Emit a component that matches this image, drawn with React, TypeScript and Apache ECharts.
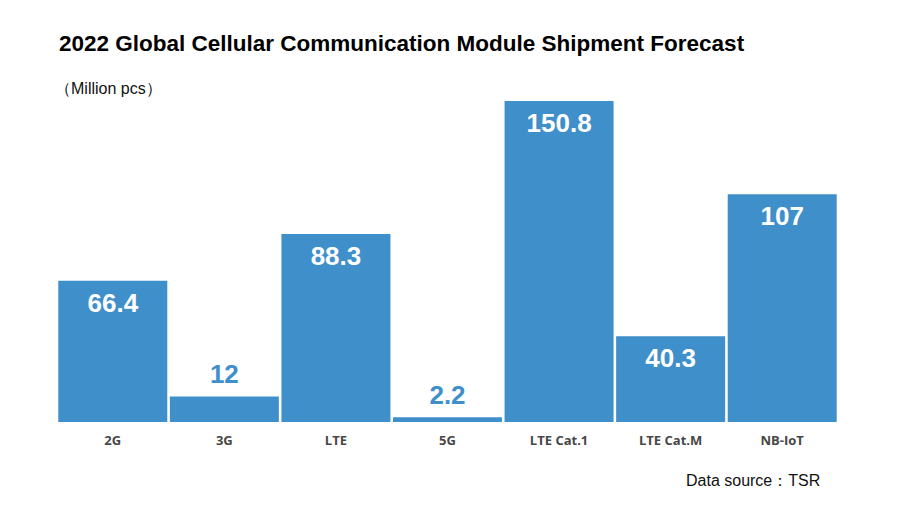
import React, { useEffect, useRef } from "react";
import * as echarts from "echarts";

const categories = ["2G", "3G", "LTE", "5G", "LTE Cat.1", "LTE Cat.M", "NB-IoT"];
const shipments = [66.4, 12, 88.3, 2.2, 150.8, 40.3, 107];
const insideThreshold = 30;

const BLUE = "#3f8fcb";

export default function App() {
  const ref = useRef<HTMLDivElement>(null);
  useEffect(() => {
    if (!ref.current) return;
    const chart = echarts.init(ref.current, undefined, { renderer: "svg" });
    const data = shipments.map((v) => {
      const inside = v >= insideThreshold;
      return {
        value: v,
        label: inside
          ? { position: "insideTop", distance: 9, color: "#ffffff" }
          : { position: "top", distance: 9, color: BLUE },
      };
    });
    chart.setOption({
      animation: false,
      backgroundColor: "#ffffff",
      title: [
        {
          text: "2022 Global Cellular Communication Module Shipment Forecast",
          left: 54,
          top: 27,
          textStyle: {
            fontFamily: "Liberation Sans, Arial, sans-serif",
            fontWeight: "bold",
            fontSize: 22.5,
            color: "#000000",
          },
        },
        {
          text: "（Million pcs）",
          left: 50,
          top: 75,
          textStyle: {
            fontFamily: "Liberation Sans, Arial, sans-serif",
            fontWeight: "normal",
            fontSize: 16,
            color: "#111111",
          },
        },
        {
          text: "Data source：TSR",
          left: 681,
          top: 467,
          textStyle: {
            fontFamily: "Liberation Sans, Arial, sans-serif",
            fontWeight: "normal",
            fontSize: 16,
            color: "#111111",
          },
        },
      ],
      grid: { left: 57, right: 62, top: 101, bottom: 85 },
      xAxis: {
        type: "category",
        data: categories,
        axisLine: { show: false },
        axisTick: { show: false },
        axisLabel: {
          margin: 11,
          fontFamily: "Open Sans, sans-serif",
          fontWeight: 700,
          fontSize: 13,
          color: "#474747",
        },
      },
      yAxis: {
        type: "value",
        min: 0,
        max: 150.8,
        show: false,
        splitLine: { show: false },
      },
      series: [
        {
          type: "bar",
          data,
          barCategoryGap: "2.3%",
          itemStyle: { color: BLUE },
          label: {
            show: true,
            fontFamily: "Liberation Sans, Arial, sans-serif",
            fontWeight: "bold",
            fontSize: 26,
          },
        },
      ],
    });
    return () => chart.dispose();
  }, []);
  return (
    <div
      ref={ref}
      style={{ position: "absolute", left: 0, top: 0, width: 900, height: 507 }}
    />
  );
}
